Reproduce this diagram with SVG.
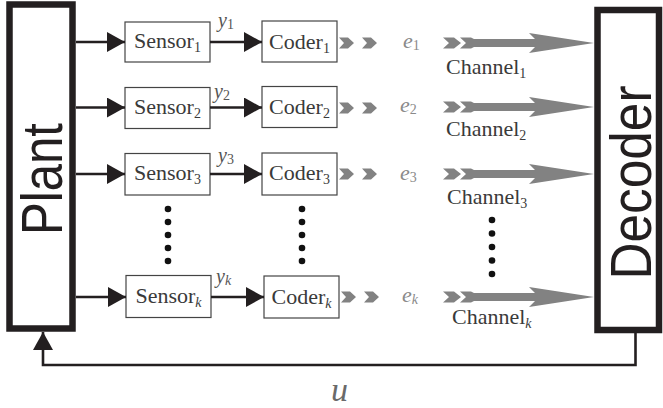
<svg xmlns="http://www.w3.org/2000/svg" width="663" height="408" viewBox="0 0 663 408">
<style>
.big{fill:none;stroke:#231f20;stroke-width:6.5}
.box{fill:#fff;stroke:#444;stroke-width:1.2}
.lbl{font-family:"Liberation Serif","Times New Roman",serif;font-size:22px;fill:#3a3a3a}
.sub{font-size:14px}
.math{font-family:"Liberation Serif","Times New Roman",serif;font-style:italic;font-size:20px;fill:#555}
.em{fill:#8a8a8a;font-size:22px}
.title{font-family:"Liberation Sans",Arial,Helvetica,sans-serif;fill:#231f20}
.wire{stroke:#231f20;stroke-width:2.6;fill:none}
.gray{fill:#828282}
.dot{fill:#111}
</style>
<defs>
<marker id="ah" markerWidth="18" markerHeight="20" refX="18" refY="10" orient="auto" markerUnits="userSpaceOnUse">
<path d="M0,0 L18,10 L0,20 Z" fill="#231f20"/>
</marker>
<path id="chev" d="M0,-5.5 L9,-5.5 L15,0 L9,5.5 L0,5.5 L5,0 Z"/>
<g id="chan">
<path d="M0,-5.5 L11,-5.5 L18,0 L11,5.5 L0,5.5 L6,0 Z"/>
<path d="M17,-5.5 L28,-5.5 L31,-4 L92,-4 L86,-10 L151,0 L86,10 L92,4 L31,4 L28,5.5 L17,5.5 L23,0 Z"/>
</g>
</defs>

<g id="plant">
<rect class="big" x="9.5" y="4.5" width="63" height="324"/>
<text class="title" transform="translate(62,179) rotate(-90)" text-anchor="middle" font-size="57" textLength="112" lengthAdjust="spacingAndGlyphs">Plant</text>
</g>

<g id="decoder">
<rect class="big" x="597.5" y="10" width="61.5" height="320"/>
<text class="title" transform="translate(651,182.5) rotate(-90)" text-anchor="middle" font-size="57" textLength="194" lengthAdjust="spacingAndGlyphs">Decoder</text>
</g>

<g id="sensor1"><rect class="box" x="125" y="22" width="85" height="40"/><text class="lbl" x="167.5" y="48" text-anchor="middle">Sensor<tspan class="sub" dy="4">1</tspan></text></g>
<g id="sensor2"><rect class="box" x="125" y="87.5" width="85" height="41"/><text class="lbl" x="167.5" y="114" text-anchor="middle">Sensor<tspan class="sub" dy="4">2</tspan></text></g>
<g id="sensor3"><rect class="box" x="125" y="153.5" width="85" height="41.5"/><text class="lbl" x="167.5" y="180" text-anchor="middle">Sensor<tspan class="sub" dy="4">3</tspan></text></g>
<g id="sensork"><rect class="box" x="126" y="275.5" width="85" height="42"/><text class="lbl" x="168.5" y="303" text-anchor="middle">Sensor<tspan class="sub" font-style="italic" dy="4">k</tspan></text></g>

<g id="coder1"><rect class="box" x="262" y="21" width="75" height="41"/><text class="lbl" x="299.5" y="49" text-anchor="middle">Coder<tspan class="sub" dy="4">1</tspan></text></g>
<g id="coder2"><rect class="box" x="262" y="86.5" width="75" height="41"/><text class="lbl" x="299.5" y="114" text-anchor="middle">Coder<tspan class="sub" dy="4">2</tspan></text></g>
<g id="coder3"><rect class="box" x="262" y="153" width="75" height="42"/><text class="lbl" x="299.5" y="180" text-anchor="middle">Coder<tspan class="sub" dy="4">3</tspan></text></g>
<g id="coderk"><rect class="box" x="264" y="276" width="75" height="42"/><text class="lbl" x="301.5" y="304" text-anchor="middle">Coder<tspan class="sub" font-style="italic" dy="4">k</tspan></text></g>

<g id="connectors">
<line class="wire" x1="76" y1="42" x2="125" y2="42" marker-end="url(#ah)"/>
<line class="wire" x1="76" y1="107.5" x2="125" y2="107.5" marker-end="url(#ah)"/>
<line class="wire" x1="76" y1="174" x2="125" y2="174" marker-end="url(#ah)"/>
<line class="wire" x1="76" y1="297" x2="126" y2="297" marker-end="url(#ah)"/>
<line class="wire" x1="210" y1="42" x2="262" y2="42" marker-end="url(#ah)"/>
<line class="wire" x1="210" y1="107.5" x2="262" y2="107.5" marker-end="url(#ah)"/>
<line class="wire" x1="210" y1="174" x2="262" y2="174" marker-end="url(#ah)"/>
<line class="wire" x1="211" y1="297" x2="264" y2="297" marker-end="url(#ah)"/>
<polyline class="wire" points="635.5,333 635.5,365 43,365 43,332" marker-end="url(#ah)"/>
<g class="gray">
<use href="#chev" x="339" y="43"/><use href="#chev" x="362" y="43"/>
<use href="#chev" x="339" y="108"/><use href="#chev" x="362" y="108"/>
<use href="#chev" x="339" y="174"/><use href="#chev" x="362" y="174"/>
<use href="#chev" x="341" y="297"/><use href="#chev" x="364" y="297"/>
<use href="#chan" x="443" y="43"/>
<use href="#chan" x="443" y="107"/>
<use href="#chan" x="443" y="174"/>
<use href="#chan" x="443" y="297"/>
</g>
</g>

<g id="labels">
<text class="math" x="218" y="27">y<tspan class="sub" font-style="normal" dy="2">1</tspan></text>
<text class="math" x="214" y="98">y<tspan class="sub" font-style="normal" dy="2">2</tspan></text>
<text class="math" x="218" y="162">y<tspan class="sub" font-style="normal" dy="2">3</tspan></text>
<text class="math" x="216" y="283">y<tspan class="sub" dy="2">k</tspan></text>
<text class="math em" x="403" y="48">e<tspan class="sub" font-style="normal" dy="2">1</tspan></text>
<text class="math em" x="400" y="112">e<tspan class="sub" font-style="normal" dy="2">2</tspan></text>
<text class="math em" x="400" y="180">e<tspan class="sub" font-style="normal" dy="2">3</tspan></text>
<text class="math em" x="402" y="302">e<tspan class="sub" dy="2">k</tspan></text>
<text class="lbl" x="446" y="74">Channel<tspan class="sub" dy="4">1</tspan></text>
<text class="lbl" x="446" y="136">Channel<tspan class="sub" dy="4">2</tspan></text>
<text class="lbl" x="447" y="204">Channel<tspan class="sub" dy="4">3</tspan></text>
<text class="lbl" x="452" y="324">Channel<tspan class="sub" font-style="italic" dy="4">k</tspan></text>
<text class="math" x="331" y="401" style="font-size:34px;fill:#6a6a6a">u</text>
</g>

<g id="ellipses" class="dot">
<circle cx="168" cy="209" r="3.3"/><circle cx="168" cy="222" r="3.3"/><circle cx="168" cy="235" r="3.3"/><circle cx="168" cy="248" r="3.3"/><circle cx="168" cy="261" r="3.3"/>
<circle cx="302" cy="209" r="3.3"/><circle cx="302" cy="222" r="3.3"/><circle cx="302" cy="235" r="3.3"/><circle cx="302" cy="248" r="3.3"/><circle cx="302" cy="261" r="3.3"/>
<circle cx="492" cy="220" r="3.3"/><circle cx="492" cy="233.5" r="3.3"/><circle cx="492" cy="247" r="3.3"/><circle cx="492" cy="260.5" r="3.3"/><circle cx="492" cy="274" r="3.3"/>
</g>
</svg>
